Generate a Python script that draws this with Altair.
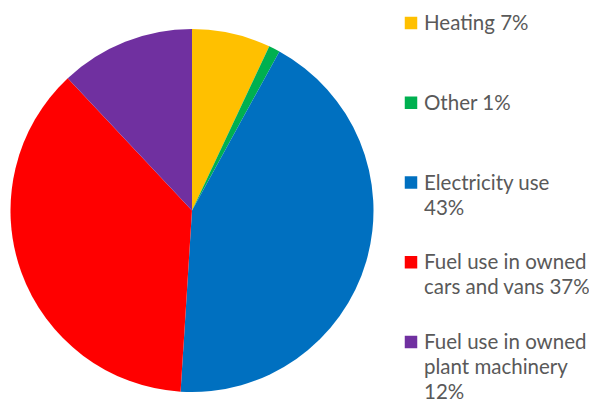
import altair as alt
import pandas as pd

categories = ["Heating", "Other", "Electricity use",
              "Fuel use in owned cars and vans",
              "Fuel use in owned plant machinery"]
values = [7, 1, 43, 37, 12]
legend_labels = ["Heating 7%", "Other 1%", "Electricity use\n43%",
                 "Fuel use in owned\ncars and vans 37%",
                 "Fuel use in owned\nplant machinery\n12%"]
colors = ["#FFC000", "#00B050", "#0070C0", "#FF0000", "#7030A0"]

df = pd.DataFrame({
    "category": categories,
    "value": values,
    "label": legend_labels,
    "idx": list(range(len(categories))),
})

color_scale = alt.Scale(domain=categories, range=colors)
FONT = "Lato"

base = alt.Chart(df)

pie = base.mark_arc(radius=181.5, stroke=None).encode(
    theta=alt.Theta("value:Q", stack=True),
    order=alt.Order("idx:Q"),
    color=alt.Color("category:N", scale=color_scale, legend=None),
    x=alt.value(184),
    y=alt.value(202.5),
)

ypos = alt.Y("idx:Q", scale=alt.Scale(domain=[0, 4], range=[15, 334]), axis=None)

squares = base.mark_point(shape="square", filled=True, size=156, opacity=1, strokeWidth=0).encode(
    x=alt.value(403),
    y=ypos,
    color=alt.Color("category:N", scale=color_scale, legend=None),
)

texts = base.mark_text(align="left", baseline="top", dy=-9, lineBreak="\n",
                       lineHeight=25, font=FONT, fontSize=20.5, color="#595959").encode(
    x=alt.value(416),
    y=ypos,
    text="label:N",
)

chart = alt.layer(pie, squares, texts).properties(
    width=581, height=396, padding=0,
    autosize=alt.AutoSizeParams(type="none"),
).configure_view(stroke=None)

chart.save("out.html", embed_options={"renderer": "svg", "actions": False})
